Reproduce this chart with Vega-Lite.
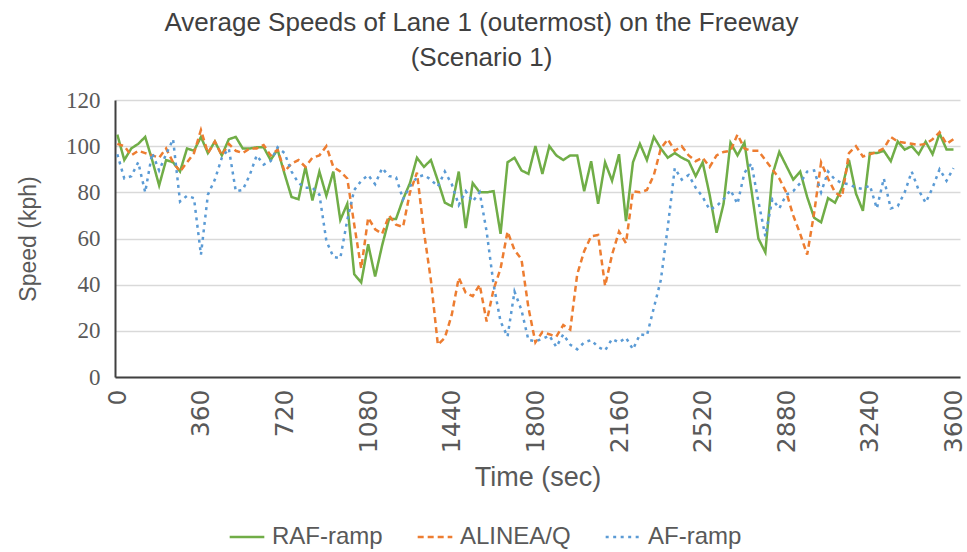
{
"$schema": "https://vega.github.io/schema/vega-lite/v6.json",
"width": 845, "height": 277,
"autosize": {"type": "none"},
"padding": {"left": 115, "top": 100, "right": 7, "bottom": 175},
"background": "white",
"config": {"view": {"stroke": null},
 "legend": {"orient": "none", "legendX": 113, "legendY": 418, "direction": "horizontal", "title": null, "symbolType": "stroke", "symbolSize": 1200, "symbolStrokeWidth": 2.5, "labelFont": "Liberation Sans", "labelFontSize": 24, "labelColor": "#595959", "labelOffset": 6, "columnPadding": 29}},
"title": {"text": ["Average Speeds of Lane 1 (outermost) on the Freeway", "(Scenario 1)"], "font": "Liberation Sans", "fontSize": 26, "fontWeight": "normal", "color": "#404040", "lineHeight": 35, "anchor": "middle", "frame": "group", "dx": -56, "offset": 18},
"data": {"values": [
{"t":0,"s":"RAF-ramp","v":105},{"t":30,"s":"RAF-ramp","v":94},{"t":60,"s":"RAF-ramp","v":99},{"t":90,"s":"RAF-ramp","v":101},{"t":120,"s":"RAF-ramp","v":104},{"t":150,"s":"RAF-ramp","v":94},{"t":180,"s":"RAF-ramp","v":83},{"t":210,"s":"RAF-ramp","v":94},{"t":240,"s":"RAF-ramp","v":93},{"t":270,"s":"RAF-ramp","v":89},
{"t":300,"s":"RAF-ramp","v":99},{"t":330,"s":"RAF-ramp","v":98},{"t":360,"s":"RAF-ramp","v":104},{"t":390,"s":"RAF-ramp","v":97},{"t":420,"s":"RAF-ramp","v":102},{"t":450,"s":"RAF-ramp","v":96},{"t":480,"s":"RAF-ramp","v":103},{"t":510,"s":"RAF-ramp","v":104},{"t":540,"s":"RAF-ramp","v":99},{"t":570,"s":"RAF-ramp","v":99},
{"t":600,"s":"RAF-ramp","v":99.5},{"t":630,"s":"RAF-ramp","v":99.5},{"t":660,"s":"RAF-ramp","v":94},{"t":690,"s":"RAF-ramp","v":98.5},{"t":720,"s":"RAF-ramp","v":88},{"t":750,"s":"RAF-ramp","v":78},{"t":780,"s":"RAF-ramp","v":77},{"t":810,"s":"RAF-ramp","v":91},{"t":840,"s":"RAF-ramp","v":76.5},{"t":870,"s":"RAF-ramp","v":89},
{"t":900,"s":"RAF-ramp","v":78.5},{"t":930,"s":"RAF-ramp","v":89},{"t":960,"s":"RAF-ramp","v":68},{"t":990,"s":"RAF-ramp","v":75},{"t":1020,"s":"RAF-ramp","v":44.5},{"t":1050,"s":"RAF-ramp","v":41},{"t":1080,"s":"RAF-ramp","v":57.5},{"t":1110,"s":"RAF-ramp","v":43.5},{"t":1140,"s":"RAF-ramp","v":57},{"t":1170,"s":"RAF-ramp","v":68.5},
{"t":1200,"s":"RAF-ramp","v":68.5},{"t":1230,"s":"RAF-ramp","v":77},{"t":1260,"s":"RAF-ramp","v":84},{"t":1290,"s":"RAF-ramp","v":95},{"t":1320,"s":"RAF-ramp","v":91},{"t":1350,"s":"RAF-ramp","v":94},{"t":1380,"s":"RAF-ramp","v":85},{"t":1410,"s":"RAF-ramp","v":75.5},{"t":1440,"s":"RAF-ramp","v":74},{"t":1470,"s":"RAF-ramp","v":89},
{"t":1500,"s":"RAF-ramp","v":64.5},{"t":1530,"s":"RAF-ramp","v":84},{"t":1560,"s":"RAF-ramp","v":80},{"t":1590,"s":"RAF-ramp","v":80},{"t":1620,"s":"RAF-ramp","v":80.5},{"t":1650,"s":"RAF-ramp","v":62},{"t":1680,"s":"RAF-ramp","v":93},{"t":1710,"s":"RAF-ramp","v":95},{"t":1740,"s":"RAF-ramp","v":89.5},{"t":1770,"s":"RAF-ramp","v":88},
{"t":1800,"s":"RAF-ramp","v":100},{"t":1830,"s":"RAF-ramp","v":88},{"t":1860,"s":"RAF-ramp","v":100},{"t":1890,"s":"RAF-ramp","v":96},{"t":1920,"s":"RAF-ramp","v":94},{"t":1950,"s":"RAF-ramp","v":96},{"t":1980,"s":"RAF-ramp","v":96},{"t":2010,"s":"RAF-ramp","v":80.5},{"t":2040,"s":"RAF-ramp","v":93.5},{"t":2070,"s":"RAF-ramp","v":75},
{"t":2100,"s":"RAF-ramp","v":93},{"t":2130,"s":"RAF-ramp","v":85},{"t":2160,"s":"RAF-ramp","v":96.5},{"t":2190,"s":"RAF-ramp","v":67.5},{"t":2220,"s":"RAF-ramp","v":93},{"t":2250,"s":"RAF-ramp","v":101},{"t":2280,"s":"RAF-ramp","v":94},{"t":2310,"s":"RAF-ramp","v":104},{"t":2340,"s":"RAF-ramp","v":99},{"t":2370,"s":"RAF-ramp","v":95},
{"t":2400,"s":"RAF-ramp","v":97},{"t":2430,"s":"RAF-ramp","v":95},{"t":2460,"s":"RAF-ramp","v":93.5},{"t":2490,"s":"RAF-ramp","v":87},{"t":2520,"s":"RAF-ramp","v":93},{"t":2550,"s":"RAF-ramp","v":79},{"t":2580,"s":"RAF-ramp","v":62.5},{"t":2610,"s":"RAF-ramp","v":75},{"t":2640,"s":"RAF-ramp","v":101.5},{"t":2670,"s":"RAF-ramp","v":96},
{"t":2700,"s":"RAF-ramp","v":101.5},{"t":2730,"s":"RAF-ramp","v":81},{"t":2760,"s":"RAF-ramp","v":60},{"t":2790,"s":"RAF-ramp","v":54},{"t":2820,"s":"RAF-ramp","v":87.5},{"t":2850,"s":"RAF-ramp","v":97.5},{"t":2880,"s":"RAF-ramp","v":91.5},{"t":2910,"s":"RAF-ramp","v":85.5},{"t":2940,"s":"RAF-ramp","v":89},{"t":2970,"s":"RAF-ramp","v":78},
{"t":3000,"s":"RAF-ramp","v":69},{"t":3030,"s":"RAF-ramp","v":67},{"t":3060,"s":"RAF-ramp","v":77.5},{"t":3090,"s":"RAF-ramp","v":75.5},{"t":3120,"s":"RAF-ramp","v":82},{"t":3150,"s":"RAF-ramp","v":94},{"t":3180,"s":"RAF-ramp","v":79.5},{"t":3210,"s":"RAF-ramp","v":72},{"t":3240,"s":"RAF-ramp","v":97},{"t":3270,"s":"RAF-ramp","v":97},
{"t":3300,"s":"RAF-ramp","v":98},{"t":3330,"s":"RAF-ramp","v":93.5},{"t":3360,"s":"RAF-ramp","v":102},{"t":3390,"s":"RAF-ramp","v":98.5},{"t":3420,"s":"RAF-ramp","v":100},{"t":3450,"s":"RAF-ramp","v":96.5},{"t":3480,"s":"RAF-ramp","v":102},{"t":3510,"s":"RAF-ramp","v":96.5},{"t":3540,"s":"RAF-ramp","v":105.5},{"t":3570,"s":"RAF-ramp","v":98.6},{"t":3600,"s":"RAF-ramp","v":98.6},
{"t":0,"s":"ALINEA/Q","v":101},{"t":30,"s":"ALINEA/Q","v":100},{"t":60,"s":"ALINEA/Q","v":96},{"t":90,"s":"ALINEA/Q","v":98},{"t":120,"s":"ALINEA/Q","v":97},{"t":150,"s":"ALINEA/Q","v":96},{"t":180,"s":"ALINEA/Q","v":95},{"t":210,"s":"ALINEA/Q","v":99},{"t":240,"s":"ALINEA/Q","v":93},{"t":270,"s":"ALINEA/Q","v":89},
{"t":300,"s":"ALINEA/Q","v":93},{"t":330,"s":"ALINEA/Q","v":97},{"t":360,"s":"ALINEA/Q","v":107},{"t":390,"s":"ALINEA/Q","v":97},{"t":420,"s":"ALINEA/Q","v":102},{"t":450,"s":"ALINEA/Q","v":96},{"t":480,"s":"ALINEA/Q","v":101},{"t":510,"s":"ALINEA/Q","v":98},{"t":540,"s":"ALINEA/Q","v":97},{"t":570,"s":"ALINEA/Q","v":99},
{"t":600,"s":"ALINEA/Q","v":99},{"t":630,"s":"ALINEA/Q","v":100.5},{"t":660,"s":"ALINEA/Q","v":96},{"t":690,"s":"ALINEA/Q","v":98.5},{"t":720,"s":"ALINEA/Q","v":89},{"t":750,"s":"ALINEA/Q","v":92.5},{"t":780,"s":"ALINEA/Q","v":94},{"t":810,"s":"ALINEA/Q","v":91},{"t":840,"s":"ALINEA/Q","v":95},{"t":870,"s":"ALINEA/Q","v":96},
{"t":900,"s":"ALINEA/Q","v":100},{"t":930,"s":"ALINEA/Q","v":91},{"t":960,"s":"ALINEA/Q","v":89},{"t":990,"s":"ALINEA/Q","v":86},{"t":1020,"s":"ALINEA/Q","v":66},{"t":1050,"s":"ALINEA/Q","v":47},{"t":1080,"s":"ALINEA/Q","v":69},{"t":1110,"s":"ALINEA/Q","v":64},{"t":1140,"s":"ALINEA/Q","v":62},{"t":1170,"s":"ALINEA/Q","v":70},
{"t":1200,"s":"ALINEA/Q","v":66},{"t":1230,"s":"ALINEA/Q","v":65},{"t":1260,"s":"ALINEA/Q","v":80},{"t":1290,"s":"ALINEA/Q","v":88.5},{"t":1320,"s":"ALINEA/Q","v":63},{"t":1350,"s":"ALINEA/Q","v":42},{"t":1380,"s":"ALINEA/Q","v":14},{"t":1410,"s":"ALINEA/Q","v":17},{"t":1440,"s":"ALINEA/Q","v":27},{"t":1470,"s":"ALINEA/Q","v":43},
{"t":1500,"s":"ALINEA/Q","v":36.5},{"t":1530,"s":"ALINEA/Q","v":35},{"t":1560,"s":"ALINEA/Q","v":40},{"t":1590,"s":"ALINEA/Q","v":24},{"t":1620,"s":"ALINEA/Q","v":38},{"t":1650,"s":"ALINEA/Q","v":47},{"t":1680,"s":"ALINEA/Q","v":63},{"t":1710,"s":"ALINEA/Q","v":55},{"t":1740,"s":"ALINEA/Q","v":51},{"t":1770,"s":"ALINEA/Q","v":30},
{"t":1800,"s":"ALINEA/Q","v":15},{"t":1830,"s":"ALINEA/Q","v":19.5},{"t":1860,"s":"ALINEA/Q","v":18.5},{"t":1890,"s":"ALINEA/Q","v":17.5},{"t":1920,"s":"ALINEA/Q","v":22.5},{"t":1950,"s":"ALINEA/Q","v":20.5},{"t":1980,"s":"ALINEA/Q","v":44.5},{"t":2010,"s":"ALINEA/Q","v":54.5},{"t":2040,"s":"ALINEA/Q","v":61},{"t":2070,"s":"ALINEA/Q","v":61.5},
{"t":2100,"s":"ALINEA/Q","v":39.5},{"t":2130,"s":"ALINEA/Q","v":53},{"t":2160,"s":"ALINEA/Q","v":63},{"t":2190,"s":"ALINEA/Q","v":58},{"t":2220,"s":"ALINEA/Q","v":80.5},{"t":2250,"s":"ALINEA/Q","v":80},{"t":2280,"s":"ALINEA/Q","v":81},{"t":2310,"s":"ALINEA/Q","v":87.5},{"t":2340,"s":"ALINEA/Q","v":99},{"t":2370,"s":"ALINEA/Q","v":103},
{"t":2400,"s":"ALINEA/Q","v":98},{"t":2430,"s":"ALINEA/Q","v":100},{"t":2460,"s":"ALINEA/Q","v":96},{"t":2490,"s":"ALINEA/Q","v":93.5},{"t":2520,"s":"ALINEA/Q","v":95},{"t":2550,"s":"ALINEA/Q","v":91},{"t":2580,"s":"ALINEA/Q","v":96},{"t":2610,"s":"ALINEA/Q","v":97.5},{"t":2640,"s":"ALINEA/Q","v":98},{"t":2670,"s":"ALINEA/Q","v":105},
{"t":2700,"s":"ALINEA/Q","v":99},{"t":2730,"s":"ALINEA/Q","v":98},{"t":2760,"s":"ALINEA/Q","v":98},{"t":2790,"s":"ALINEA/Q","v":94},{"t":2820,"s":"ALINEA/Q","v":90},{"t":2850,"s":"ALINEA/Q","v":86},{"t":2880,"s":"ALINEA/Q","v":80},{"t":2910,"s":"ALINEA/Q","v":70},{"t":2940,"s":"ALINEA/Q","v":62},{"t":2970,"s":"ALINEA/Q","v":53},
{"t":3000,"s":"ALINEA/Q","v":71},{"t":3030,"s":"ALINEA/Q","v":93},{"t":3060,"s":"ALINEA/Q","v":86},{"t":3090,"s":"ALINEA/Q","v":80},{"t":3120,"s":"ALINEA/Q","v":78},{"t":3150,"s":"ALINEA/Q","v":97},{"t":3180,"s":"ALINEA/Q","v":100},{"t":3210,"s":"ALINEA/Q","v":95.5},{"t":3240,"s":"ALINEA/Q","v":96.5},{"t":3270,"s":"ALINEA/Q","v":97.5},
{"t":3300,"s":"ALINEA/Q","v":99},{"t":3330,"s":"ALINEA/Q","v":104},{"t":3360,"s":"ALINEA/Q","v":102},{"t":3390,"s":"ALINEA/Q","v":101.5},{"t":3420,"s":"ALINEA/Q","v":101},{"t":3450,"s":"ALINEA/Q","v":100.5},{"t":3480,"s":"ALINEA/Q","v":101},{"t":3510,"s":"ALINEA/Q","v":103},{"t":3540,"s":"ALINEA/Q","v":106},{"t":3570,"s":"ALINEA/Q","v":101},{"t":3600,"s":"ALINEA/Q","v":103},
{"t":0,"s":"AF-ramp","v":96.5},{"t":30,"s":"AF-ramp","v":86},{"t":60,"s":"AF-ramp","v":87},{"t":90,"s":"AF-ramp","v":93},{"t":120,"s":"AF-ramp","v":80},{"t":150,"s":"AF-ramp","v":97},{"t":180,"s":"AF-ramp","v":89.5},{"t":210,"s":"AF-ramp","v":96.5},{"t":240,"s":"AF-ramp","v":103},{"t":270,"s":"AF-ramp","v":76},
{"t":300,"s":"AF-ramp","v":78.5},{"t":330,"s":"AF-ramp","v":77.5},{"t":360,"s":"AF-ramp","v":53},{"t":390,"s":"AF-ramp","v":79},{"t":420,"s":"AF-ramp","v":85.5},{"t":450,"s":"AF-ramp","v":95},{"t":480,"s":"AF-ramp","v":99},{"t":510,"s":"AF-ramp","v":80.5},{"t":540,"s":"AF-ramp","v":81},{"t":570,"s":"AF-ramp","v":87.5},
{"t":600,"s":"AF-ramp","v":96},{"t":630,"s":"AF-ramp","v":92},{"t":660,"s":"AF-ramp","v":93.5},{"t":690,"s":"AF-ramp","v":99.5},{"t":720,"s":"AF-ramp","v":97},{"t":750,"s":"AF-ramp","v":89},{"t":780,"s":"AF-ramp","v":84},{"t":810,"s":"AF-ramp","v":82},{"t":840,"s":"AF-ramp","v":82},{"t":870,"s":"AF-ramp","v":79},
{"t":900,"s":"AF-ramp","v":59},{"t":930,"s":"AF-ramp","v":52},{"t":960,"s":"AF-ramp","v":51.5},{"t":990,"s":"AF-ramp","v":68},{"t":1020,"s":"AF-ramp","v":81},{"t":1050,"s":"AF-ramp","v":85},{"t":1080,"s":"AF-ramp","v":87.5},{"t":1110,"s":"AF-ramp","v":83.5},{"t":1140,"s":"AF-ramp","v":90.5},{"t":1170,"s":"AF-ramp","v":87},
{"t":1200,"s":"AF-ramp","v":86.5},{"t":1230,"s":"AF-ramp","v":77},{"t":1260,"s":"AF-ramp","v":82.5},{"t":1290,"s":"AF-ramp","v":86.5},{"t":1320,"s":"AF-ramp","v":87.5},{"t":1350,"s":"AF-ramp","v":85.5},{"t":1380,"s":"AF-ramp","v":82.5},{"t":1410,"s":"AF-ramp","v":89},{"t":1440,"s":"AF-ramp","v":83.5},{"t":1470,"s":"AF-ramp","v":74.5},
{"t":1500,"s":"AF-ramp","v":80.5},{"t":1530,"s":"AF-ramp","v":76},{"t":1560,"s":"AF-ramp","v":80},{"t":1590,"s":"AF-ramp","v":63},{"t":1620,"s":"AF-ramp","v":40},{"t":1650,"s":"AF-ramp","v":24},{"t":1680,"s":"AF-ramp","v":17.5},{"t":1710,"s":"AF-ramp","v":37},{"t":1740,"s":"AF-ramp","v":29},{"t":1770,"s":"AF-ramp","v":16},
{"t":1800,"s":"AF-ramp","v":15.5},{"t":1830,"s":"AF-ramp","v":16.5},{"t":1860,"s":"AF-ramp","v":18},{"t":1890,"s":"AF-ramp","v":13},{"t":1920,"s":"AF-ramp","v":18.5},{"t":1950,"s":"AF-ramp","v":14},{"t":1980,"s":"AF-ramp","v":12},{"t":2010,"s":"AF-ramp","v":15},{"t":2040,"s":"AF-ramp","v":16},{"t":2070,"s":"AF-ramp","v":13},
{"t":2100,"s":"AF-ramp","v":11.5},{"t":2130,"s":"AF-ramp","v":16.5},{"t":2160,"s":"AF-ramp","v":15},{"t":2190,"s":"AF-ramp","v":17},{"t":2220,"s":"AF-ramp","v":12},{"t":2250,"s":"AF-ramp","v":18.5},{"t":2280,"s":"AF-ramp","v":18},{"t":2310,"s":"AF-ramp","v":30},{"t":2340,"s":"AF-ramp","v":42},{"t":2370,"s":"AF-ramp","v":65},
{"t":2400,"s":"AF-ramp","v":90.5},{"t":2430,"s":"AF-ramp","v":85.5},{"t":2460,"s":"AF-ramp","v":87.5},{"t":2490,"s":"AF-ramp","v":82},{"t":2520,"s":"AF-ramp","v":78},{"t":2550,"s":"AF-ramp","v":72.5},{"t":2580,"s":"AF-ramp","v":74},{"t":2610,"s":"AF-ramp","v":77},{"t":2640,"s":"AF-ramp","v":81},{"t":2670,"s":"AF-ramp","v":75},
{"t":2700,"s":"AF-ramp","v":88.5},{"t":2730,"s":"AF-ramp","v":92.5},{"t":2760,"s":"AF-ramp","v":76},{"t":2790,"s":"AF-ramp","v":61},{"t":2820,"s":"AF-ramp","v":77},{"t":2850,"s":"AF-ramp","v":73},{"t":2880,"s":"AF-ramp","v":79},{"t":2910,"s":"AF-ramp","v":80.5},{"t":2940,"s":"AF-ramp","v":84},{"t":2970,"s":"AF-ramp","v":89},
{"t":3000,"s":"AF-ramp","v":89.5},{"t":3030,"s":"AF-ramp","v":80},{"t":3060,"s":"AF-ramp","v":89},{"t":3090,"s":"AF-ramp","v":85.5},{"t":3120,"s":"AF-ramp","v":84},{"t":3150,"s":"AF-ramp","v":83.5},{"t":3180,"s":"AF-ramp","v":82},{"t":3210,"s":"AF-ramp","v":81.5},{"t":3240,"s":"AF-ramp","v":83},{"t":3270,"s":"AF-ramp","v":73},
{"t":3300,"s":"AF-ramp","v":86},{"t":3330,"s":"AF-ramp","v":73},{"t":3360,"s":"AF-ramp","v":74},{"t":3390,"s":"AF-ramp","v":80},{"t":3420,"s":"AF-ramp","v":89},{"t":3450,"s":"AF-ramp","v":81},{"t":3480,"s":"AF-ramp","v":75.5},{"t":3510,"s":"AF-ramp","v":82},{"t":3540,"s":"AF-ramp","v":90},{"t":3570,"s":"AF-ramp","v":85},{"t":3600,"s":"AF-ramp","v":90.5}
]},
"mark": {"type": "line", "strokeWidth": 2.5},
"encoding": {
 "x": {"field": "t", "type": "quantitative",
  "scale": {"domain": [-10, 3628], "nice": false, "zero": false},
  "axis": {"values": [0,360,720,1080,1440,1800,2160,2520,2880,3240,3600], "format": "d", "title": "Time (sec)", "labelAngle": 270, "labelFont": "DejaVu Sans", "labelFontSize": 25, "labelColor": "#595959", "labelPadding": 12, "ticks": false, "grid": false, "domainColor": "#404040", "domainWidth": 2, "titleFont": "Liberation Sans", "titleFontSize": 27, "titleFontWeight": "normal", "titleColor": "#595959", "titleY": 100, "titleBaseline": "middle"}},
 "y": {"field": "v", "type": "quantitative",
  "scale": {"domain": [0, 120], "nice": false},
  "axis": {"values": [0,20,40,60,80,100,120], "title": "Speed (kph)", "grid": true, "gridColor": "#D9D9D9", "gridWidth": 1.3, "ticks": false, "labelPadding": 15, "labelFont": "Liberation Sans Narrow", "labelFontSize": 23, "labelColor": "#595959", "domainColor": "#404040", "domainWidth": 2, "titleFont": "Liberation Sans", "titleFontSize": 23, "titleFontWeight": "normal", "titleColor": "#595959", "titleX": -87, "titleY": 138.5, "titleAlign": "center", "titleBaseline": "middle", "titleAngle": 270}},
 "color": {"field": "s", "type": "nominal", "scale": {"domain": ["RAF-ramp", "ALINEA/Q", "AF-ramp"], "range": ["#70AD47", "#ED7D31", "#5B9BD5"]}},
 "strokeDash": {"field": "s", "type": "nominal", "scale": {"domain": ["RAF-ramp", "ALINEA/Q", "AF-ramp"], "range": [[1, 0], [6, 4], [3, 4.5]]}}
}
}
